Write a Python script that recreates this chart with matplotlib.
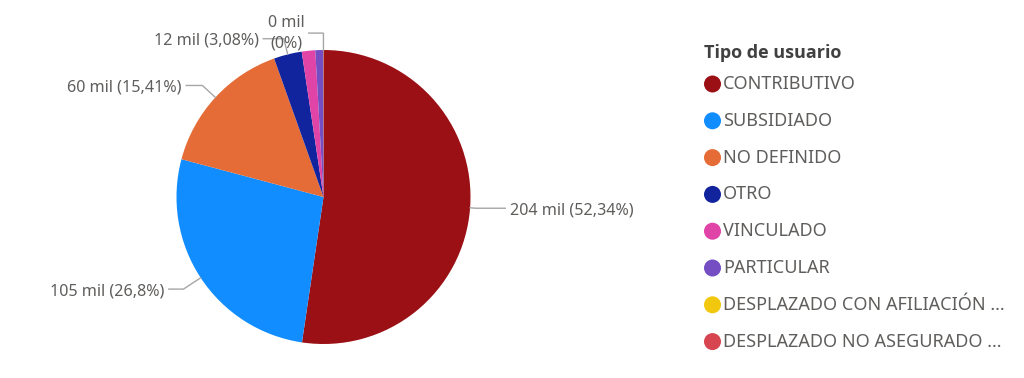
import numpy as np
import matplotlib
matplotlib.use("Agg")
import matplotlib.pyplot as plt

plt.rcParams['font.family'] = ['Noto Sans', 'DejaVu Sans']

# ---- data ----
categories = ["CONTRIBUTIVO", "SUBSIDIADO", "NO DEFINIDO", "OTRO", "VINCULADO",
              "PARTICULAR", "DESPLAZADO CON AFILIACIÓN ...", "DESPLAZADO NO ASEGURADO ..."]
percentages = [52.34, 26.80, 15.41, 3.08, 1.48, 0.86, 0.02, 0.01]
value_labels = ["204 mil", "105 mil", "60 mil", "12 mil", "", "", "", "0 mil"]
pct_labels = ["52,34%", "26,8%", "15,41%", "3,08%", "", "", "", "0%"]
colors = ["#9B1015", "#118DFF", "#E66C37", "#12239E", "#E044A7",
          "#744EC2", "#F2C80F", "#D64550"]
legend_title = "Tipo de usuario"

# leader-line geometry per labelled slice (style only)
elbow_r = [1.04, 1.14, 1.12, 1.11, 0, 0, 0, 1.115]
horiz_len = [0.20, 0.10, 0.11, 0.14, 0, 0, 0, 0.10]

W, H = 1024, 378
fig = plt.figure(figsize=(W / 100, H / 100), dpi=100)

# pie axes (center ~ (323,197) px, radius ~147 px)
cx, cy, r = 323.5, 197, 147
ax = fig.add_axes([(cx - r) / W, (H - cy - r) / H, 2 * r / W, 2 * r / H])
ax.pie(percentages, colors=colors, startangle=90, counterclock=False,
       radius=1, wedgeprops=dict(linewidth=0))
ax.set_xlim(-1, 1)
ax.set_ylim(-1, 1)
ax.set_aspect('equal')
ax.axis('off')

label_color = "#605E5C"
line_color = "#A6A6A6"
fs = 11.6
text_dy = -0.015
cum = 0.0
for i, p in enumerate(percentages):
    mid = cum + p / 2
    cum += p
    if not value_labels[i]:
        continue
    th = np.deg2rad(90 - 360 * mid / 100)
    c, s = np.cos(th), np.sin(th)
    side = 1 if c >= 0 else -1
    x0, y0 = c, s
    x1, y1 = elbow_r[i] * c, elbow_r[i] * s
    x2 = x1 + side * horiz_len[i]
    ax.plot([x0, x1, x2], [y0, y1, y1], color=line_color, lw=1,
            clip_on=False, solid_joinstyle='miter')
    gap = 0.03 * side
    if i == len(percentages) - 1:
        txt = f"{value_labels[i]}\n({pct_labels[i]})"
        ax.text(x2 + gap, y1, txt, ha='right', va='center', fontsize=fs,
                color=label_color, multialignment='center', linespacing=1.35)
    else:
        txt = f"{value_labels[i]} ({pct_labels[i]})"
        ax.text(x2 + gap, y1 + text_dy, txt, ha='left' if side > 0 else 'right',
                va='center', fontsize=fs, color=label_color)

# legend drawn in a full-figure pixel axes
lax = fig.add_axes([0, 0, 1, 1])
lax.set_xlim(0, W)
lax.set_ylim(H, 0)
lax.axis('off')
lax.text(704, 53, legend_title, fontsize=13, fontweight='bold',
         family=['Open Sans', 'DejaVu Sans'],
         color="#404040", ha='left', va='center')
y_start, dy = 84, 36.8
for i, (cat, col) in enumerate(zip(categories, colors)):
    y = y_start + i * dy
    lax.scatter([712.5], [y], s=150, color=col, edgecolors='none')
    lax.text(723, y, cat, fontsize=13, color=label_color, ha='left', va='center')

fig.savefig("out.png", dpi=100, facecolor='white')
